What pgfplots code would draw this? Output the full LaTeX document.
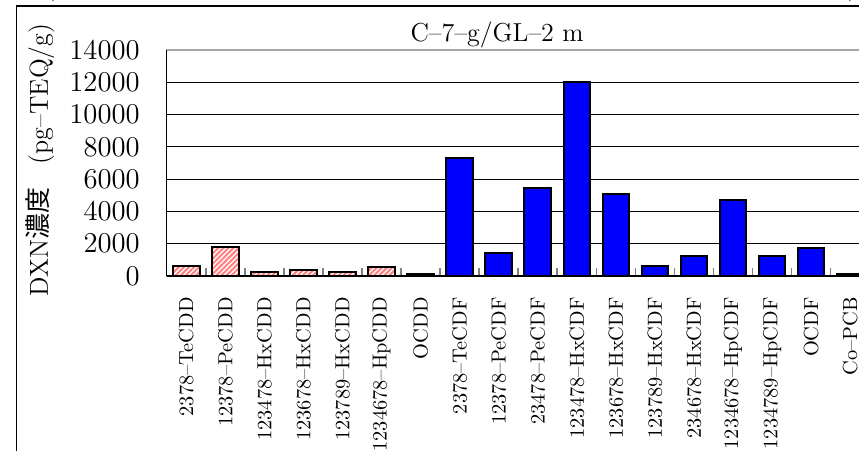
\documentclass[border=0pt]{standalone}
\usepackage{fontspec}
\newfontfamily\cjk{Noto Sans CJK JP}
\usepackage{pgfplots}
\pgfplotsset{compat=1.18}
\usetikzlibrary{patterns.meta}

\definecolor{pinkc}{RGB}{255,125,125}
\definecolor{barblue}{RGB}{0,0,255}

\begin{document}
\begin{tikzpicture}
  \begin{axis}[
      scale only axis,
      width=351.5bp, height=113bp,
      clip=false,
      xmin=-0.5, xmax=17.5,
      ymin=0, ymax=14000,
      ybar, bar width=0.68,
      xtick pos=bottom, ytick pos=left,
      xtick={0,...,17},
      xticklabels={2378–TeCDD,12378–PeCDD,123478–HxCDD,123678–HxCDD,123789–HxCDD,1234678–HpCDD,OCDD,
        2378–TeCDF,12378–PeCDF,23478–PeCDF,123478–HxCDF,123678–HxCDF,123789–HxCDF,234678–HxCDF,
        1234678–HpCDF,1234789–HpCDF,OCDF,Co–PCB},
      x tick label style={font=\fontsize{10.2bp}{12bp}\selectfont, yshift=-10.5bp, rotate=90, anchor=east, inner sep=0pt},
      major x tick style={draw=none},
      minor xtick={0.5,1.5,...,16.5},
      minor x tick style={gray, line width=0.8bp},
      minor tick length=4bp,
      tick align=inside,
      ytick={0,2000,...,14000},
      y tick label style={font=\fontsize{15.4bp}{16bp}\selectfont, inner sep=0pt, xshift=-13.3bp},
      scaled y ticks=false,
      yticklabel style={/pgf/number format/1000 sep={}},
      major y tick style={black, line width=0.6bp},
      major tick length=5bp,
      ymajorgrids,
      major grid style={black, line width=0.5bp},
      axis line style={gray!70, line width=0.8bp},
      ylabel={DXN{\cjk 濃度}\hspace{0.9em}(pg–TEQ/g)},
      ylabel style={font=\fontsize{13bp}{16bp}\selectfont, at={(axis description cs:-0.18,0.513)}, anchor=center},
    ]
    % PCDD (hatched)
    \addplot[ybar, bar shift=0pt, draw=black, line width=1bp, fill=white,
      postaction={pattern={Lines[angle=45,distance=1.8bp,line width=1bp]}, pattern color=pinkc}]
      coordinates {(0,630) (1,1770) (2,250) (3,400) (4,250) (5,550) (6,100)};
    % PCDF
    \addplot[ybar, bar shift=0pt, draw=black, line width=1bp, fill=barblue]
      coordinates {(7,7300) (8,1450) (9,5450) (10,12000) (11,5070) (12,590) (13,1230) (14,4700) (15,1230) (16,1720)};
    % Co-PCB
    \addplot[ybar, bar shift=0pt, draw=black, line width=1bp, fill=white]
      coordinates {(17,100)};

    \draw[gray!70, line width=0.8bp] ([xshift=5bp]rel axis cs:0,1) -- (rel axis cs:1,1);
    \draw[black, line width=0.6bp] (rel axis cs:0,0) -- (rel axis cs:0,1);
    \draw[black, line width=1bp] (rel axis cs:0,0) -- (rel axis cs:1,0);
    \node[font=\fontsize{13bp}{16bp}\selectfont, anchor=base, inner sep=0pt]
      at ([yshift=4.5bp]axis description cs:0.47,1) {C–7–g/GL–2 m};
  \end{axis}
  % outer frame and cut-off caption line
  \draw[black, line width=0.8bp] (-75bp,-100bp) -- (-75bp,135bp) -- (360bp,135bp);
  \node[font=\fontsize{14.4bp}{16bp}\selectfont, anchor=base, inner sep=0pt] at (-58.35bp,140.5bp) {(};
  \node[font=\fontsize{14.4bp}{16bp}\selectfont, anchor=base, inner sep=0pt] at (343.15bp,140.5bp) {)};
  \pgfresetboundingbox
  \useasboundingbox (-83.35bp,-87.5bp) rectangle (346.15bp,138bp);
\end{tikzpicture}
\end{document}
